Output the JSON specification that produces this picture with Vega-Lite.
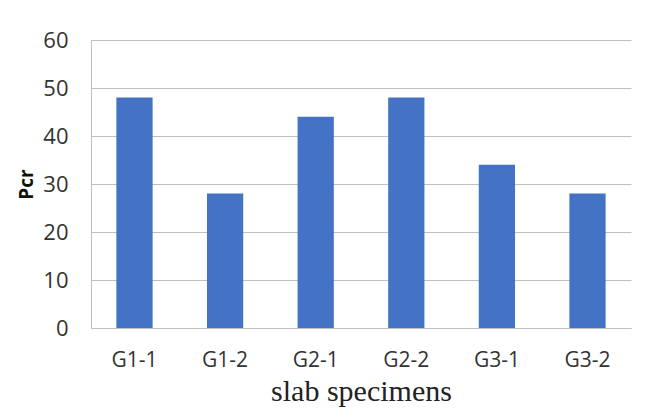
{
  "$schema": "https://vega.github.io/schema/vega-lite/v6.json",
  "width": 540,
  "height": 288,
  "autosize": "none",
  "padding": {"left": 91, "top": 40, "right": 23, "bottom": 84},
  "background": "white",
  "data": {"values": [
    {"specimen": "G1-1", "Pcr": 48},
    {"specimen": "G1-2", "Pcr": 28},
    {"specimen": "G2-1", "Pcr": 44},
    {"specimen": "G2-2", "Pcr": 48},
    {"specimen": "G3-1", "Pcr": 34},
    {"specimen": "G3-2", "Pcr": 28}
  ]},
  "mark": {"type": "bar", "color": "#4472C4"},
  "encoding": {
    "x": {
      "field": "specimen", "type": "nominal", "sort": null,
      "scale": {"paddingInner": 0.6, "paddingOuter": 0.28},
      "axis": {
        "title": "slab specimens", "labelAngle": 0, "ticks": false,
        "domainColor": "#bfbfbf", "labelFont": "Open Sans", "labelFontSize": 21,
        "labelColor": "#333333", "labelPadding": 21,
        "titleFont": "Liberation Serif", "titleFontSize": 30, "titleFontWeight": "normal",
        "titleColor": "#222222", "titlePadding": 6
      }
    },
    "y": {
      "field": "Pcr", "type": "quantitative",
      "scale": {"domain": [0, 60]},
      "axis": {
        "title": "Pcr", "values": [0, 10, 20, 30, 40, 50, 60], "ticks": false,
        "domainColor": "#bfbfbf", "gridColor": "#bfbfbf",
        "labelFont": "Open Sans", "labelFontSize": 22, "labelColor": "#333333",
        "labelPadding": 23,
        "titleFont": "Open Sans", "titleFontSize": 19, "titleFontWeight": "bold",
        "titleColor": "#111111", "titlePadding": 6
      }
    }
  },
  "config": {"view": {"stroke": null}}
}
